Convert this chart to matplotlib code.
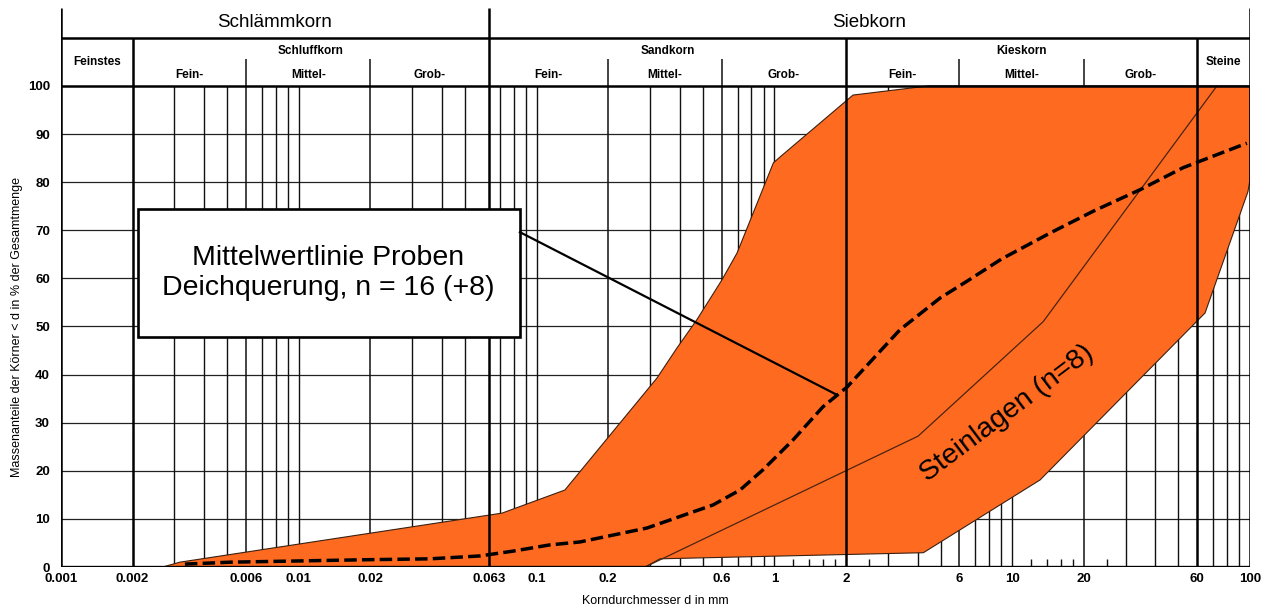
import numpy as np
import matplotlib
matplotlib.use('Agg')
import matplotlib.pyplot as plt
from matplotlib.patches import Rectangle

plt.rcParams['font.family'] = ['Liberation Sans', 'DejaVu Sans']

# Kornverteilung: Grenzlinien des Bandes (d in mm, Durchgang in %)
upper_d = [0.00268, 0.00316, 0.0716, 0.1315, 0.321, 0.389, 0.472, 0.602, 0.697, 0.99, 1.06, 2.14, 4.43, 100]
upper_p = [0, 1.0, 11.2, 16.0, 39.3, 45.5, 51.4, 59.7, 65.3, 84.0, 85.3, 98.1, 100, 100]

lower_d = [0.286, 0.33, 4.23, 13.1, 64.7, 98, 100, 100]
lower_p = [0, 1.7, 2.97, 18.1, 52.8, 78.0, 80.5, 100]

# Steinlagen obere Grenze
inner_d = [0.286, 4.02, 13.5, 72.6]
inner_p = [0, 27.2, 51.0, 100]

# Mittelwertlinie
mean_d = [0.00332, 0.00514, 0.0186, 0.0356, 0.0578, 0.0796, 0.1138, 0.152, 0.291, 0.552,
          0.717, 0.895, 1.197, 1.60, 2.02, 3.37, 4.97, 6.5, 9.0, 14.4, 22, 34.4, 52.3, 97]
mean_p = [0.6, 1.0, 1.5, 1.7, 2.3, 3.3, 4.6, 5.2, 8.1, 12.9,
          16.0, 20.2, 26.4, 33.3, 37.4, 49.3, 55.9, 59.5, 64.0, 69.4, 74.0, 78.4, 83.0, 88.1]

# Achsenbeschriftung
x_ticks = [0.001, 0.002, 0.006, 0.01, 0.02, 0.063, 0.1, 0.2, 0.6, 1, 2, 6, 10, 20, 60, 100]
x_tick_labels = ['0.001', '0.002', '0.006', '0.01', '0.02', '0.063', '0.1', '0.2', '0.6',
                 '1', '2', '6', '10', '20', '60', '100']
y_ticks = list(range(0, 101, 10))

# Gitterlinien
main_bounds = [0.002, 2, 60]
sub_bounds = [0.006, 0.02, 0.2, 0.6, 6, 20]
minor_lines = [0.003, 0.004, 0.005, 0.007, 0.008, 0.009, 0.01, 0.03, 0.04, 0.05,
               0.07, 0.08, 0.09, 0.1, 0.3, 0.4, 0.5, 0.7, 0.8, 0.9, 1,
               3, 4, 5, 7, 8, 9, 10, 30, 40, 50, 70, 80, 90]
small_ticks = [1.2, 1.4, 1.6, 1.8, 2.5, 12, 14, 16, 18, 25]

fig = plt.figure(figsize=(12.7, 6.1), dpi=100)
ax = fig.add_axes([61 / 1270, 43 / 610, 1189 / 1270, 559 / 610])
ax.set_xscale('log')
ax.set_xlim(0.001, 100)
top = 116.2
ax.set_ylim(0, top)
for s in ax.spines.values():
    s.set_visible(False)

# Raster
ax.hlines(range(10, 100, 10), 0.001, 100, color='#222222', lw=0.9, zorder=1)
ax.vlines(minor_lines, 0, 100, color='#111111', lw=1.0, zorder=1)
ax.vlines(small_ticks, 0, 1.6, color='#111111', lw=1.0, zorder=1)
ax.vlines(sub_bounds, 0, 105.6, color='#111111', lw=1.1, zorder=1)
ax.vlines(main_bounds, 0, 110, color='black', lw=1.8, zorder=4)
ax.vlines([0.001, 0.063, 100], 0, top, color='black', lw=1.8, zorder=4)
ax.hlines([100, 110], 0.001, 100, color='black', lw=1.8, zorder=4)
ax.hlines(0, 0.001, 100, color='black', lw=2.4, zorder=4)

# Kornband
poly_d = upper_d + lower_d[::-1] + [upper_d[0]]
poly_p = upper_p + lower_p[::-1] + [upper_p[0]]
ax.fill(poly_d, poly_p, facecolor='#FF6A21', edgecolor='#3a2010', lw=0.8, zorder=2)
ax.plot(inner_d, inner_p, color='#4a2410', lw=0.9, zorder=3)
ax.plot(mean_d, mean_p, color='black', lw=2.5, dashes=(3.6, 1.5), zorder=3)

# Beschriftungskasten
ax.add_patch(Rectangle((0.00211, 47.8), 0.0851 - 0.00211, 74.4 - 47.8,
                       facecolor='white', edgecolor='black', lw=1.9, zorder=5))
ax.text(0.01333, 61.1, 'Mittelwertlinie Proben\nDeichquerung, n = 16 (+8)', ha='center', va='center',
        fontsize=20.5, linespacing=1.2, zorder=6)
ax.plot([0.0851, 1.83], [69.6, 35.8], color='black', lw=1.6, zorder=5)

ax.text(9.5, 32, 'Steinlagen (n=8)', rotation=37, ha='center', va='center', fontsize=20.5, zorder=6)

# Kopfzeilen
ax.text(10 ** -2.1, 113.2, 'Schlämmkorn', ha='center', va='center', fontsize=13.5)
ax.text(10 ** 0.4, 113.2, 'Siebkorn', ha='center', va='center', fontsize=13.5)
hdr = dict(ha='center', va='center', fontsize=8.5, fontweight='bold')
ax.text(np.sqrt(0.001 * 0.002), 105.0, 'Feinstes', **hdr)
ax.text(np.sqrt(60 * 100), 105.0, 'Steine', **hdr)
for name, lo, hi in [('Schluffkorn', 0.002, 0.063), ('Sandkorn', 0.063, 2), ('Kieskorn', 2, 60)]:
    ax.text(np.sqrt(lo * hi), 107.3, name, **hdr)
for lo, hi, name in [(0.002, 0.006, 'Fein-'), (0.006, 0.02, 'Mittel-'), (0.02, 0.063, 'Grob-'),
                     (0.063, 0.2, 'Fein-'), (0.2, 0.6, 'Mittel-'), (0.6, 2, 'Grob-'),
                     (2, 6, 'Fein-'), (6, 20, 'Mittel-'), (20, 60, 'Grob-')]:
    ax.text(np.sqrt(lo * hi), 102.3, name, **hdr)

ax.set_xticks(x_ticks)
ax.set_xticklabels(x_tick_labels)
ax.set_xticks([], minor=True)
ax.set_yticks(y_ticks)
ax.tick_params(length=0, labelsize=9.5)
ax.tick_params(axis='y', pad=8)
ax.tick_params(axis='x', pad=4)
for lab in ax.get_xticklabels() + ax.get_yticklabels():
    lab.set_fontweight('bold')

fig.text(17 / 1270, 1 - 327 / 610, 'Massenanteile der Körner < d in % der Gesamtmenge',
         rotation=90, ha='center', va='center', fontsize=9)
fig.text(655 / 1270, 1 - 601 / 610, 'Korndurchmesser d in mm', ha='center', va='center', fontsize=9)

fig.savefig('out.png', dpi=100)
